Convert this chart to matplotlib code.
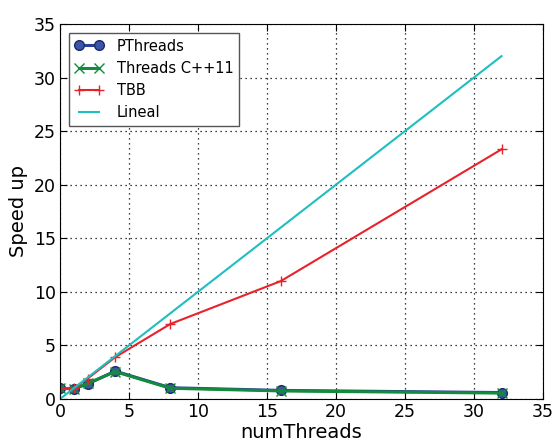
import matplotlib
matplotlib.use('Agg')
import matplotlib.pyplot as plt

# Data
threads = [0, 1, 2, 4, 8, 16, 32]
pthreads = [1.0, 0.95, 1.4, 2.6, 1.05, 0.8, 0.6]
cpp11 = [1.0, 0.95, 1.45, 2.55, 1.0, 0.75, 0.55]
tbb = [1.0, 1.0, 1.9, 3.9, 7.0, 11.0, 23.3]
lineal = [0, 1, 2, 4, 8, 16, 32]

plt.rcParams['font.family'] = 'DejaVu Sans'
plt.rcParams['xtick.direction'] = 'in'
plt.rcParams['ytick.direction'] = 'in'
plt.rcParams['xtick.top'] = True
plt.rcParams['ytick.right'] = True

fig = plt.figure(figsize=(5.57, 4.44), dpi=100)
ax = fig.add_axes([0.1077, 0.1014, 0.867, 0.8446])

ax.plot(threads, pthreads, color='#2b3f99', marker='o', markersize=7,
        linewidth=2.2, markeredgecolor='#1c2a66', markerfacecolor='#3b55a8', label='PThreads')
ax.plot(threads, cpp11, color='#138a3c', marker='x', markersize=7,
        linewidth=2.2, label='Threads C++11')
ax.plot(threads, tbb, color='#e8222b', marker='+', markersize=7,
        linewidth=1.5, label='TBB')
ax.plot(threads, lineal, color='#1fbfbf', linewidth=1.5, label='Lineal')

ax.set_xlim(0, 35)
ax.set_ylim(0, 35)
ax.set_xticks(range(0, 36, 5))
ax.set_yticks(range(0, 36, 5))
ax.grid(True, color='black', linestyle=(0, (1, 3)), linewidth=0.9)
ax.tick_params(labelsize=12.5, length=5, pad=3)
ax.set_xlabel('numThreads', fontsize=14, labelpad=1)
ax.set_ylabel('Speed up', fontsize=14, labelpad=4)

leg = ax.legend(loc='upper left', fontsize=10.5, fancybox=False, framealpha=1,
                edgecolor='#555555', handlelength=2.0, numpoints=2,
                handletextpad=0.9, borderaxespad=0.6)
leg.get_frame().set_linewidth(1)

fig.savefig('out.png', dpi=100)
